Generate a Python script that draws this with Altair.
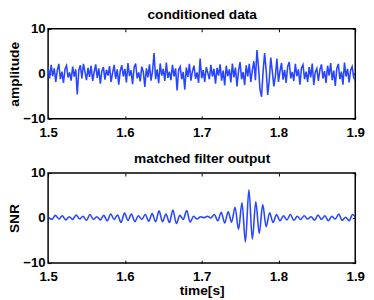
import altair as alt
import pandas as pd

# x ticks / y ticks
X_TICKS = [1.5, 1.6, 1.7, 1.8, 1.9]
Y_TICKS = [-10, 0, 10]

# conditioned data, sampled every 2 ms from t = 1.500 s
DATA_T0 = 1.5
DATA_DT = 0.002
data_values = [
    1.5, -1.0, 2.0, -0.5, 1.2, -1.8, 0.8, 2.2, -1.2, 0.5,
    -2.0, 1.0, 1.8, -0.8, 0.3, -1.5, 1.6, -0.6, 1.0, -4.6,
    0.8, 1.9, -1.0, 2.2, 0.5, -1.4, 1.3, -0.7, 1.8, -1.6,
    0.4, 2.1, -0.9, 1.2, -2.2, 0.6, 1.5, -1.3, 0.9, -0.4,
    1.7, -1.8, 0.2, 2.0, -1.1, 1.0, -2.4, 0.7, 1.9, -0.6,
    1.1, -1.9, 2.4, -0.5, 0.8, -2.3, 1.4, 2.3, -1.0, 0.3,
    -1.7, 1.6, 0.4, -2.9, 1.2, -0.8, 2.1, -1.5, 0.6, 4.6,
    -1.2, 1.0, -2.1, 2.3, -0.4, 1.1, -1.6, 2.5, -0.9, 0.5,
    -1.4, 2.0, -0.6, 1.2, -3.7, 0.9, 1.6, -1.2, 0.4, -3.5,
    1.4, -0.7, 2.2, -1.5, 0.6, 1.8, -1.1, 0.3, -2.0, 3.4,
    -1.0, 0.8, -1.8, 1.5, 0.2, -1.2, 2.0, -0.6, 1.1, -2.2,
    1.3, -0.4, 2.1, -1.5, 0.7, -2.6, 1.8, -0.5, 1.0, -1.9,
    2.3, -0.8, 1.4, -2.8, 0.6, 2.6, -1.2, 0.4, -2.5, 1.9,
    -0.6, 2.2, -1.8, 0.8, 2.8, -1.4, 5.3, 1.5, -3.5, -5.1,
    0.5, 4.6, 0.8, -4.7, -1.5, 3.6, 0.5, -2.8, -0.5, 3.4,
    -1.8, 0.6, 2.4, -1.3, 0.9, -2.0, 1.6, 2.6, -1.0, 0.4,
    -1.6, 2.2, -0.5, 1.0, -2.4, 1.3, 2.0, -1.2, 0.5, -1.8,
    1.5, -0.8, 2.3, -2.5, 0.4, 1.2, -1.6, 0.9, 2.1, -1.0,
    0.6, -2.0, 1.8, -0.4, 2.4, -1.4, 0.7, -2.7, 1.2, 2.2,
    -1.2, 0.5, -2.4, 2.5, -0.6, 1.1, -1.9, 0.8, 1.6, -0.8,
    -1.5,
]

# matched filter output: successive peaks / troughs, every 4.5 ms from t = 1.5005 s
SNR_T0 = 1.5005
SNR_DT = 0.0045
snr_values = [
    0.2, -0.3, 0.6, -0.2, 0.5, -0.4, 0.3, -0.3, 0.7, -0.2,
    0.4, -0.5, 0.8, -0.3, 0.3, -0.4, 0.6, -0.6, 0.9, -0.3,
    0.7, -1.0, 1.1, -0.5, 0.9, -0.8, 0.5, -0.3, 0.8, -0.7,
    1.0, -0.8, 1.6, -0.8, 0.9, -1.0, 1.8, -1.2, 0.6, -0.3,
    1.7, -0.9, 0.4, -0.2, 0.3, 0.1, 0.4, 0.0, 0.8, -0.6,
    1.3, -1.1, 1.4, -0.9, 2.4, -2.5, 3.4, -5.3, 6.3, -4.7,
    3.6, -3.4, 3.0, -1.9, 1.2, -1.0, 0.8, -0.6, 0.5, -0.4,
    0.8, -0.5, 0.4, -0.3, 0.5, -0.2, 0.3, -0.5, 0.7, -0.3,
    0.5, -0.6, 0.4, -0.2, 0.9, -0.5, 0.2, -0.6, 0.8, 0.0,
]

data_df = pd.DataFrame({
    "t": [DATA_T0 + DATA_DT * i for i in range(len(data_values))],
    "v": data_values,
})
snr_df = pd.DataFrame({
    "t": [SNR_T0 + SNR_DT * i for i in range(len(snr_values))],
    "v": snr_values,
})

BLUE = "#2846ff"
FONT = "Liberation Sans"


def panel(df, title, ytitle, xtitle, interp):
    xs = alt.Scale(domain=[1.5, 1.9], nice=False, zero=False)
    ys = alt.Scale(domain=[-10, 10], nice=False)
    line = alt.Chart(df).mark_line(
        color=BLUE, strokeWidth=1.6, clip=True, interpolate=interp
    ).encode(
        x=alt.X("t:Q", scale=xs, axis=alt.Axis(
            orient="bottom", values=X_TICKS, format=".1f", title=xtitle,
            offset=-3, tickSize=3, labelPadding=7, labelFlush=False,
            titlePadding=1)),
        y=alt.Y("v:Q", scale=ys, axis=alt.Axis(
            orient="left", values=Y_TICKS, format="d", title=ytitle,
            offset=-3, tickSize=3, labelPadding=3, titlePadding=1)),
    )
    ghost = alt.Chart(df).mark_line(opacity=0).encode(
        x=alt.X("t:Q", scale=xs, axis=alt.Axis(
            orient="top", values=X_TICKS, labels=False, title=title,
            titleBaseline="alphabetic", titlePadding=10,
            offset=-3, tickSize=3)),
        y=alt.Y("v:Q", scale=ys, axis=alt.Axis(
            orient="right", values=Y_TICKS, labels=False, title=None,
            offset=-3, tickSize=3)),
    )
    return alt.layer(line, ghost).resolve_axis(
        x="independent", y="independent"
    ).properties(width=314, height=92)


top = panel(data_df, "conditioned data", "amplitude", None, "linear")
bottom = panel(snr_df, "matched filter output", "SNR", "time[s]", "monotone")

chart = alt.vconcat(top, bottom, spacing=10.5).properties(
    padding={"left": -1, "top": -5, "right": 0, "bottom": 0},
    background="white",
).configure_view(
    stroke="black", strokeWidth=1.5
).configure_axis(
    grid=False, domain=False, ticks=True, tickColor="black", tickWidth=1,
    labelFont=FONT, labelFontSize=13.5, labelFontWeight="bold", labelColor="black",
    titleFont=FONT, titleFontSize=14, titleFontWeight="bold", titleColor="black",
)

chart.save("out.html", embed_options={"renderer": "svg", "actions": False})
